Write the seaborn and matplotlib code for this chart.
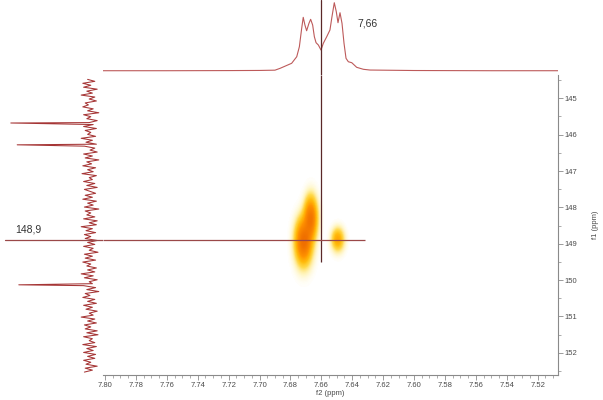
import numpy as np
import pandas as pd
import matplotlib
matplotlib.use("Agg")
import matplotlib.pyplot as plt
import seaborn as sns
from matplotlib.colors import LinearSegmentedColormap
from matplotlib.ticker import MultipleLocator, FormatStrFormatter

sns.set_style("white")
plt.rcParams["font.family"] = ["Liberation Sans", "DejaVu Sans"]

# ---------------- data ----------------
# f2 (1H) projection
top_ppm = [7.8013, 7.760, 7.720, 7.700, 7.690, 7.6867, 7.6792, 7.6759, 7.6742, 7.6727,
           7.6717, 7.6706, 7.6695, 7.6680, 7.6669, 7.6656, 7.6645, 7.6634, 7.6619, 7.6602,
           7.6587, 7.6565, 7.6544, 7.6531, 7.6516, 7.6503, 7.6492, 7.6479, 7.6466, 7.6453,
           7.6440, 7.6425, 7.6403, 7.6371, 7.6328, 7.6285, 7.600, 7.550, 7.5068]
top_int = [0.0, 0.0, 0.002, 0.004, 0.008, 0.035, 0.109, 0.206, 0.353, 0.624,
           0.785, 0.672, 0.588, 0.697, 0.756, 0.672, 0.50, 0.412, 0.378, 0.304,
           0.403, 0.50, 0.599, 0.794, 1.0, 0.868, 0.706, 0.853, 0.697, 0.403,
           0.182, 0.132, 0.118, 0.05, 0.021, 0.01, 0.003, 0.0, 0.0]

# f1 (13C/15N) projection: noisy trace plus three spikes
left_start, left_stop = 144.48, 152.53
left_noise = [0.3, -0.6, 0.9, -0.1, 0.8, -0.9, 0.4, -0.3, 1.1, -0.6,
              0.1, -0.8, 0.6, 0.2, 0.9, -0.4, 0.3, -1.1, 0.8, -0.1,
              0.4, -0.9, 0.1, -0.4, 0.8, -0.8, 0.6, -0.1, 0.3, -0.7,
              1.1, -0.3, 0.5, -0.8, 0.7, -0.6, 0.0, -0.9, 0.8, -0.3,
              0.6, -1.1, 0.4, -0.2, 0.9, -0.7, 0.3, -0.4, 1.0, -0.8,
              0.1, -0.3, 0.8, -0.6, 0.4, -0.9, 0.7, 0.0, -0.7, 0.6,
              -0.3, 0.9, -0.8, 0.3, -0.4, 0.7, -1.1, 0.6, -0.1, 0.4,
              -0.6, 0.8, -0.9, 0.1, -0.8, 1.1, -0.3, 0.5, -0.7, 0.7,
              -0.1, 0.6, -0.9, 0.3, -0.6, 0.8, -0.4, 0.1, -1.0, 0.7,
              -0.3, 0.6, -0.7, 0.9, -0.1, 0.4, -0.8, 0.3, -0.6, 1.1,
              -0.4, 0.7, -0.9, 0.1, -0.3, 0.8, -0.7, 0.4, -1.1, 0.6,
              0.0, 0.9, -0.6, 0.3, -0.8, 0.8, -0.3, 0.5, -0.9, 0.1,
              -0.4, 1.1, -0.6, 0.3, -0.8, 0.7, -0.1, 0.6, -0.9, 0.4,
              -1.0, 0.8, -0.3, 0.1, -0.6, 0.9, -0.8, 0.4, -0.4, 0.8,
              -0.7, 0.3, -0.6, 0.8, -0.1, 0.5, -0.9, 0.6, -0.3, 0.7]
spike_ppm = [145.68, 146.28, 150.13]
spike_int = [9.9, 9.1, 8.9]

# 2D cross peaks
cp_f2 = [7.6713, 7.6667, 7.6492]
cp_f1 = [148.95, 148.30, 148.90]
cp_w2 = [0.0032, 0.0025, 0.0024]
cp_w1 = [0.37, 0.34, 0.19]
cp_amp = [1.0, 0.85, 0.42]

cursor_f2, cursor_f1 = 7.66, 148.9
label_f2, label_f1 = "7,66", "148,9"

# axis ranges
f2_lim = (7.8013, 7.5068)
f1_lim = (152.61, 144.36)

# ---------------- figure ----------------
fig = plt.figure(figsize=(6.03, 4.0), dpi=100)
ax = fig.add_axes([103 / 603, 25 / 400, 455 / 603, 300 / 400])
ax_top = fig.add_axes([103 / 603, 325 / 400, 455 / 603, 75 / 400], sharex=ax)
ax_left = fig.add_axes([0, 25 / 400, 103 / 603, 300 / 400], sharey=ax)
for a in (ax_top, ax_left):
    a.patch.set_alpha(0)

# top projection
top_df = pd.DataFrame({"ppm": top_ppm, "I": top_int})
sns.lineplot(data=top_df, x="ppm", y="I", ax=ax_top, color="#bd5a5a", lw=0.8,
             sort=False, estimator=None)
ax_top.set_ylim(-0.063, 1.04)
ax_top.axis("off")

# left projection
grid = np.linspace(left_start, left_stop, len(left_noise))
all_f1 = np.concatenate([grid, spike_ppm])
all_I = np.concatenate([left_noise, spike_int])
order = np.argsort(all_f1)
left_df = pd.DataFrame({"f1": all_f1[order], "I": all_I[order]})
sns.lineplot(data=left_df, x="I", y="f1", ax=ax_left, color="#a53535", lw=0.75,
             sort=False, estimator=None, orient="y")
ax_left.set_xlim(11.25, -1.625)
ax_left.axis("off")

# 2D map
g2 = np.linspace(7.70, 7.62, 280)
g1 = np.linspace(146.8, 151.0, 280)
G2, G1 = np.meshgrid(g2, g1)
Z = np.zeros_like(G2)
for c2, c1, w2, w1, a in zip(cp_f2, cp_f1, cp_w2, cp_w1, cp_amp):
    Z += a * np.exp(-0.5 * ((G2 - c2) / w2) ** 2 - 0.5 * ((G1 - c1) / w1) ** 2)
cmap = LinearSegmentedColormap.from_list(
    "nmr",
    [(0.0, (1, 1, 1, 0)), (0.06, (1, 0.96, 0.72, 0.4)), (0.15, (1, 0.86, 0.3, 0.95)),
     (0.3, (1, 0.74, 0.05, 1)), (0.55, (1, 0.57, 0.0, 1)), (1.0, (0.94, 0.44, 0.0, 1))])
ax.pcolormesh(G2, G1, Z, cmap=cmap, vmin=0, vmax=1, shading="gouraud", zorder=1)

ax.set_xlim(*f2_lim)
ax.set_ylim(*f1_lim)

# cursor lines
ax_top.axvline(cursor_f2, color="#5a2828", lw=0.9)
ax.vlines(cursor_f2, f1_lim[1], 149.5, color="#5a2828", lw=0.9, zorder=5)
ax.hlines(cursor_f1, f2_lim[0], 7.6317, color="#9a4848", lw=0.9, zorder=5)
ax_left.axhline(cursor_f1, xmin=5 / 103, xmax=1, color="#9a4848", lw=0.9)

fig.text(367 / 603, 1 - 26 / 400, label_f2, ha="center", va="baseline",
         fontsize=7.5, color="#333333")
fig.text(28 / 603, 1 - 232.5 / 400, label_f1, ha="center", va="baseline",
         fontsize=7.5, color="#333333")

# axes styling
for s in ("left", "top"):
    ax.spines[s].set_visible(False)
for s in ("right", "bottom"):
    ax.spines[s].set_color("#8a8a8a")
    ax.spines[s].set_linewidth(0.8)
ax.yaxis.tick_right()
ax.yaxis.set_label_position("right")
ax.xaxis.set_major_locator(MultipleLocator(0.02))
ax.xaxis.set_minor_locator(MultipleLocator(0.005))
ax.xaxis.set_major_formatter(FormatStrFormatter("%.2f"))
ax.yaxis.set_major_locator(MultipleLocator(1))
ax.yaxis.set_minor_locator(MultipleLocator(0.5))
ax.yaxis.set_major_formatter(FormatStrFormatter("%d"))
ax.tick_params(which="major", direction="out", length=3.5, width=0.6, color="#8a8a8a",
               labelsize=5.5, labelcolor="#4a4a4a", pad=1.5)
ax.tick_params(which="minor", direction="out", length=2, width=0.5, color="#8a8a8a")
ax.tick_params(axis="y", which="both", left=False, right=True)
ax.tick_params(axis="x", which="both", top=False, bottom=True)
ax.set_xlabel("f2 (ppm)", fontsize=5.5, color="#4a4a4a", labelpad=0.5)
ax.set_ylabel("f1 (ppm)", fontsize=5.5, color="#4a4a4a", labelpad=10)

fig.savefig("out.png", dpi=100)
